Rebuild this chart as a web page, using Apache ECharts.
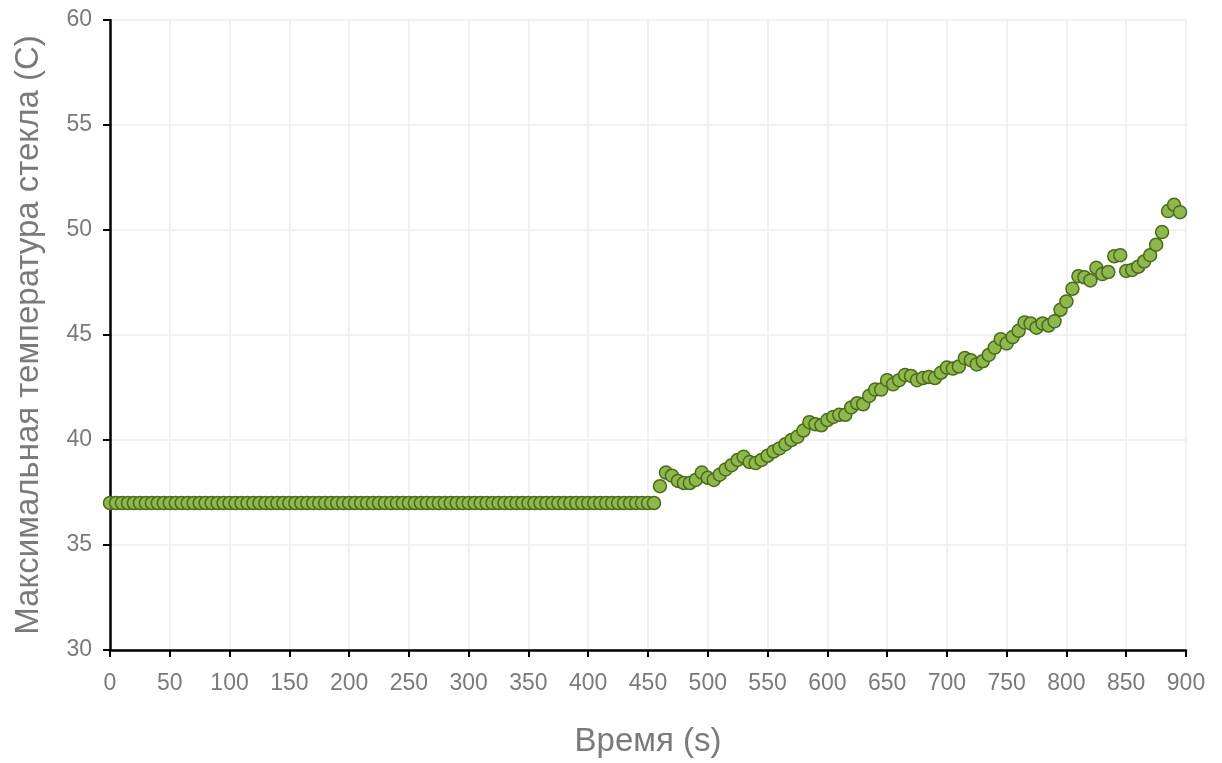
<!DOCTYPE html>
<html>
<head>
<meta charset="utf-8">
<script src="https://cdn.jsdelivr.net/npm/echarts@6/dist/echarts.min.js"></script>
<style>
html,body{margin:0;padding:0;background:#fff;}
#chart{width:1222px;height:763px;}
</style>
</head>
<body>
<div id="chart"></div>
<script>
// Time step (s) between samples and data
const flatTimes = [0,5,10,15,20,25,30,35,40,45,50,55,60,65,70,75,80,85,90,95,100,105,110,115,120,125,130,135,140,145,150,155,160,165,170,175,180,185,190,195,200,205,210,215,220,225,230,235,240,245,250,255,260,265,270,275,280,285,290,295,300,305,310,315,320,325,330,335,340,345,350,355,360,365,370,375,380,385,390,395,400,405,410,415,420,425,430,435,440,445,450,455];
const flatValue = 37;
const riseTimes = [460,465,470,475,480,485,490,495,500,505,510,515,520,525,530,535,540,545,550,555,560,565,570,575,580,585,590,595,600,605,610,615,620,625,630,635,640,645,650,655,660,665,670,675,680,685,690,695,700,705,710,715,720,725,730,735,740,745,750,755,760,765,770,775,780,785,790,795,800,805,810,815,820,825,830,835,840,845,850,855,860,865,870,875,880,885,890,895];
const riseValues = [37.8,38.45,38.3,38.05,37.95,37.95,38.1,38.45,38.2,38.1,38.35,38.6,38.8,39.05,39.2,38.95,38.9,39.05,39.25,39.45,39.6,39.8,40.0,40.15,40.45,40.85,40.75,40.7,40.95,41.1,41.2,41.2,41.55,41.75,41.7,42.1,42.4,42.4,42.85,42.65,42.85,43.1,43.05,42.85,42.95,43.0,42.95,43.2,43.45,43.4,43.5,43.9,43.8,43.6,43.75,44.05,44.4,44.8,44.6,44.9,45.2,45.6,45.55,45.35,45.55,45.45,45.65,46.2,46.6,47.2,47.8,47.75,47.6,48.2,47.9,48.0,48.75,48.8,48.05,48.1,48.25,48.5,48.8,49.3,49.9,50.9,51.2,50.85];
const xTicks = {min:0, max:900, interval:50};
const yTicks = {min:30, max:60, interval:5};
const xName = 'Время (s)';
const yName = 'Максимальная температура стекла (C)';

const data = flatTimes.map(t => [t, flatValue]).concat(riseTimes.map((t, i) => [t, riseValues[i]]));

const chart = echarts.init(document.getElementById('chart'));
const font = 'Liberation Sans, Arial, sans-serif';
const labelStyle = {color:'#7a7a7a', fontSize:23, fontFamily:font};
chart.setOption({
  animation:false,
  backgroundColor:'#fff',
  grid:{left:110, right:36, top:20, bottom:113, containLabel:false},
  xAxis:{
    type:'value', min:xTicks.min, max:xTicks.max, interval:xTicks.interval,
    name:xName, nameLocation:'middle', nameGap:75,
    nameTextStyle:{color:'#7a7a7a', fontSize:33, fontFamily:font},
    axisLine:{show:true, onZero:false, lineStyle:{color:'#000', width:2.5}},
    axisTick:{show:true, length:7, lineStyle:{color:'#000', width:2}},
    axisLabel:Object.assign({margin:22}, labelStyle),
    splitLine:{show:true, lineStyle:{color:'#ececec', width:1.5}}
  },
  yAxis:{
    type:'value', min:yTicks.min, max:yTicks.max, interval:yTicks.interval,
    name:yName, nameLocation:'middle', nameGap:65, nameRotate:90,
    nameTextStyle:{color:'#7a7a7a', fontSize:33, fontFamily:font},
    axisLine:{show:true, onZero:false, lineStyle:{color:'#000', width:2.5}},
    axisTick:{show:true, length:7, lineStyle:{color:'#000', width:2}},
    axisLabel:Object.assign({margin:18}, labelStyle),
    splitLine:{show:true, lineStyle:{color:'#ececec', width:1.5}}
  },
  series:[{
    type:'scatter',
    data:data,
    symbol:'circle',
    symbolSize:13,
    clip:false,
    itemStyle:{color:'#8fb84c', borderColor:'#4a6a1c', borderWidth:1.5, opacity:1}
  }]
});
</script>
</body>
</html>
